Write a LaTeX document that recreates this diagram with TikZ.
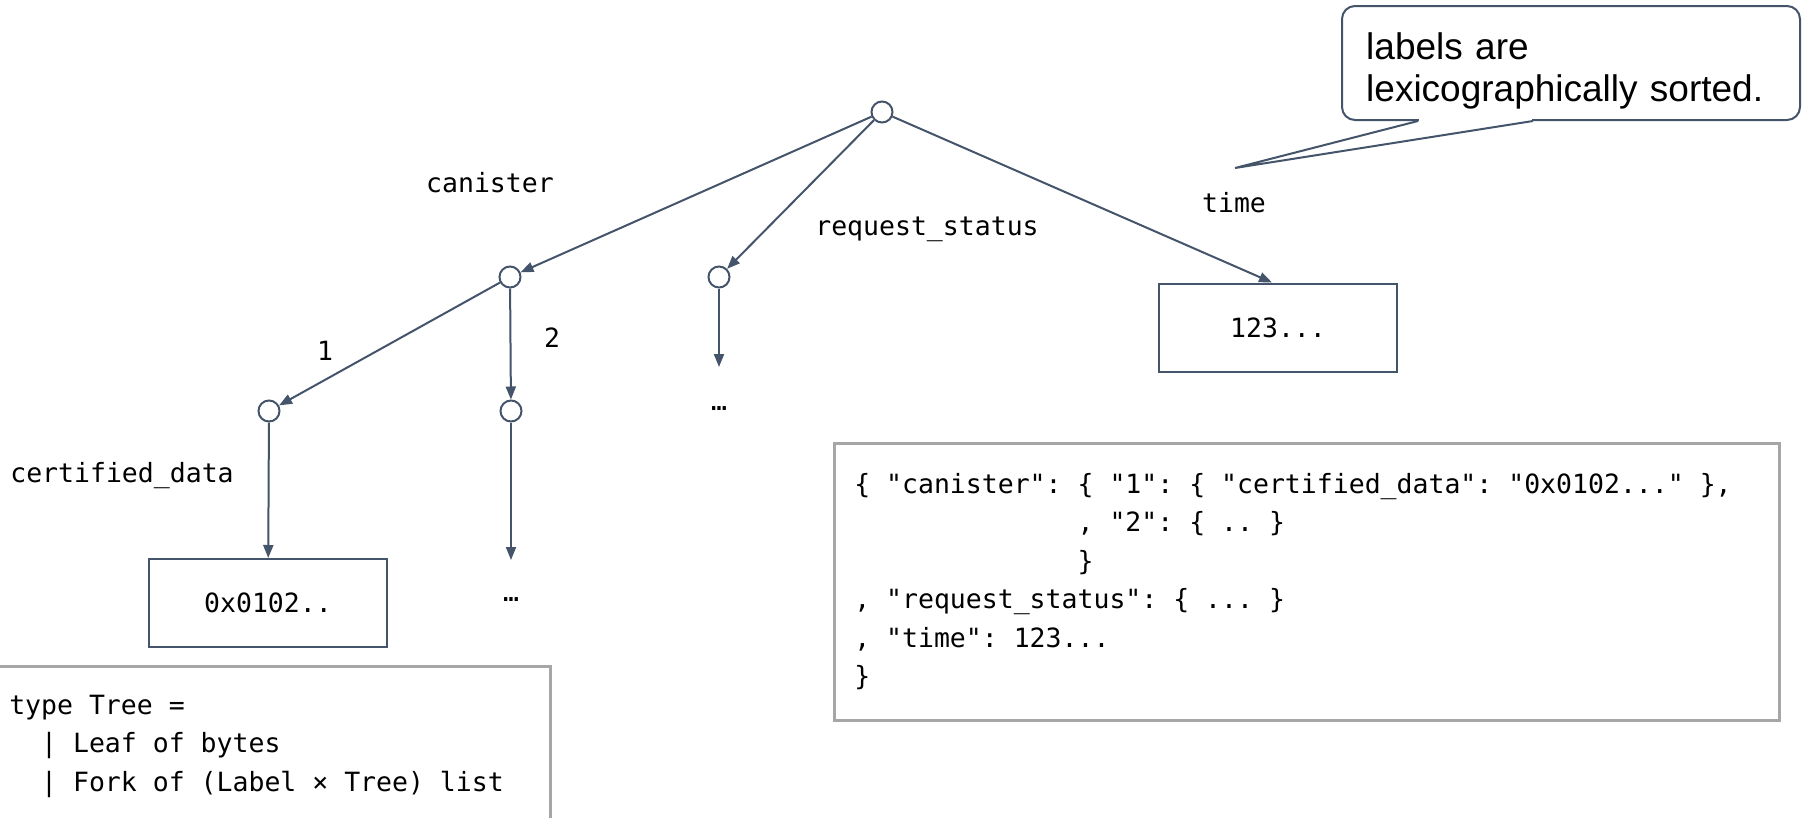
\documentclass[tikz,border=0pt]{standalone}
\usepackage{fontspec}
\setmainfont{Liberation Sans}
\setmonofont{DejaVu Sans Mono}
\usepackage{tikz}
\usetikzlibrary{arrows.meta}
\definecolor{edgeblue}{HTML}{44546A}
\definecolor{boxgray}{HTML}{A6A6A6}
\newcommand\codetext{\ttfamily\fontsize{26.5}{38.5}\selectfont}
% align=left sets narrow spaces, monospaced text wants full ones
\newcommand\fullspaces{\spaceskip=.602em\xspaceskip=.602em\relax}

\begin{document}
\begin{tikzpicture}[x=1pt,y=-1pt,
  fork/.style={circle,draw=edgeblue,line width=2pt,minimum size=21pt,inner sep=0pt},
  leaf/.style={rectangle,draw=edgeblue,line width=2pt,minimum width=238pt,minimum height=88pt,
    font=\codetext},
  edge/.style={draw=edgeblue,line width=2pt,-{Triangle[length=13pt,width=10pt]}},
  lbl/.style={anchor=base,inner sep=0pt,font=\codetext},
  code/.style={draw=boxgray,line width=2.5pt,anchor=north west,align=left,font=\codetext},
  bubble/.style={draw=edgeblue,line width=2pt,rounded corners=13pt,minimum width=458pt,
    minimum height=114pt},
  notetext/.style={anchor=base west,inner sep=0pt,text width=420pt,align=left,
    font=\fontsize{37}{42}\selectfont}]
\useasboundingbox (0,0) rectangle (1802,817);

% the tree
\node[fork] (root) at (882,112) {};
\node[fork] (canister) at (510,277) {};
\node[fork] (reqstatus) at (719,277) {};
\node[leaf] (timeval) at (1278,327.5) {123...};
\node[fork] (child1) at (269,411) {};
\node[fork] (child2) at (511,411) {};
\node[leaf] (certdata) at (268,603) {0x0102..};
\coordinate (reqend) at (719,367);
\coordinate (child2end) at (511,560);

\draw[edge] (root) -- (canister);
\draw[edge] (root) -- (reqstatus);
\draw[edge] (root) -- ([xshift=-6pt]timeval.north);
\draw[edge] (canister) -- (child1);
\draw[edge] (canister) -- (child2);
\draw[edge] (reqstatus) -- (reqend);
\draw[edge] (child1) -- (certdata);
\draw[edge] (child2) -- (child2end);

% edge labels
\node[lbl] (lcanister) at (490,192) {canister};
\node[lbl] (lreq) at (927,235) {request\_status};
\node[lbl] (ltime) at (1234,212) {time};
\node[lbl] (lone) at (325,360) {1};
\node[lbl] (ltwo) at (552,347) {2};
\node[lbl] (lcert) at (122,482) {certified\_data};
\node[lbl] (reqdots) at (719,410) {…};
\node[lbl] (child2dots) at (511,601) {…};

% the same tree as json
\node[code,minimum width=945pt,minimum height=277pt,text width=905pt,inner xsep=20pt] (json) at (833,442) {%
\fullspaces
\{ "canister": \{ "1": \{ "certified\_data": "0x0102..." \},\\
\hphantom{\{ "canister": }, "2": \{ .. \}\\
\hphantom{\{ "canister": }\}\\
, "request\_status": \{ ... \}\\
, "time": 123...\\
\}};

% the type
\node[code,inner xsep=11pt,inner ysep=28.5pt,text width=530pt] (treetype) at (-3,665) {%
\fullspaces
type Tree =\\
\hphantom{xx}| Leaf of bytes\\
\hphantom{xx}| Fork of (Label × Tree) list};

% speech bubble
\node[bubble] (bubble) at (1571,63) {};
\node[notetext] (note) at (1366,59) {labels are\\lexicographically sorted.};
\coordinate (tip) at (1235,168);
\fill[white] ([xshift=-152pt,yshift=3pt]bubble.south) rectangle ([xshift=-39pt,yshift=-3pt]bubble.south);
\draw[edgeblue,line width=2pt] ([xshift=-153pt]bubble.south) -- (tip) -- ([xshift=-38pt]bubble.south);
\end{tikzpicture}
\end{document}
